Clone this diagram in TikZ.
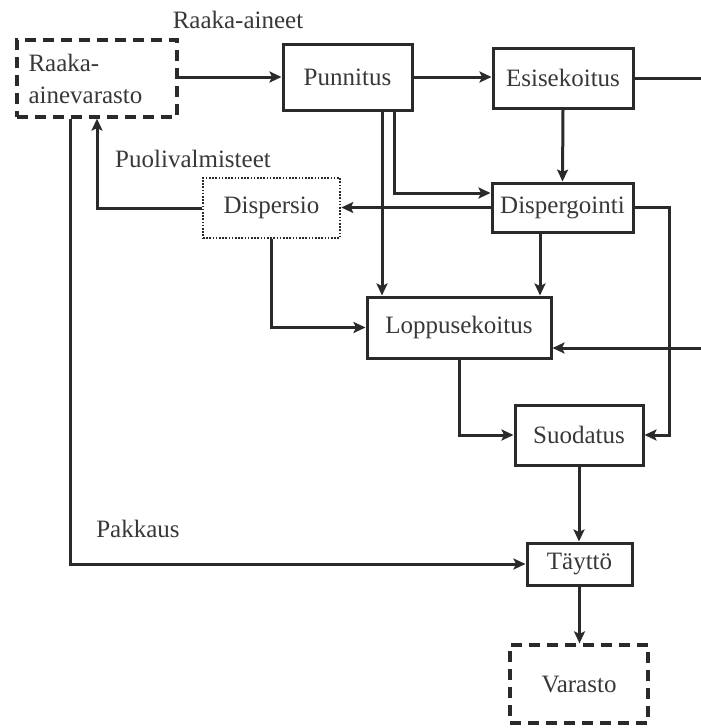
\documentclass[tikz,border=0pt]{standalone}
\usepackage{fontspec}
\setmainfont{Liberation Serif}
\usetikzlibrary{arrows.meta}
\definecolor{ink}{HTML}{2A2A2A}
\definecolor{txt}{HTML}{383838}
\tikzset{
  every node/.style={font=\fontsize{25}{32}\selectfont, text=txt},
  proc/.style={draw=ink, line width=3pt, rectangle, inner sep=0pt},
  store/.style={draw=ink, line width=3.3pt, rectangle, inner sep=0pt,
    dash pattern=on 11pt off 7pt},
  halfstore/.style={draw=ink, line width=2.6pt, rectangle, inner sep=0pt,
    dash pattern=on 1.6pt off 1.6pt},
  flow/.style={draw=ink, line width=3pt},
  arr/.style={flow, -{Stealth[length=12pt, width=11pt, inset=2.5pt]}},
  tag/.style={inner sep=0pt}
}
\begin{document}
\begin{tikzpicture}[x=1pt, y=-1pt]
\useasboundingbox (0,0) rectangle (701,728);

% storage and process boxes
\node[store, minimum width=160pt, minimum height=77pt, text width=137pt,
      inner xsep=11.5pt, align=left] (raw) at (97,78.5) {Raaka-\\ainevarasto};
\node[proc, minimum width=129pt, minimum height=66pt] (pun) at (347.5,77) {Punnitus};
\node[proc, minimum width=140pt, minimum height=60pt] (esi) at (563,78) {Esisekoitus};
\node[proc, minimum width=141pt, minimum height=49pt] (disg) at (562.5,207.5) {Dispergointi};
\node[halfstore, minimum width=137pt, minimum height=60pt] (dis) at (271.5,208) {Dispersio};
\node[proc, minimum width=184pt, minimum height=61pt] (lop) at (459,327.5) {Loppusekoitus};
\node[proc, minimum width=128pt, minimum height=60pt] (suo) at (579,435) {Suodatus};
\node[proc, minimum width=105pt, minimum height=42pt] (tay) at (579.5,564) {Täyttö};
\node[store, minimum width=138pt, minimum height=78pt] (var) at (579,684) {Varasto};

% stream labels
\node[tag] (lraw) at (238,20) {Raaka-aineet};
\node[tag] (lpuo) at (193,159) {Puolivalmisteet};
\node[tag] (lpak) at (138,529) {Pakkaus};

% lines leaving the drawing on the right
\coordinate (outE) at (701,78);
\coordinate (inE) at (701,348);

% main flow
\draw[arr] (raw.east |- pun.west) -- (pun.west);
\draw[arr] (pun.east) -- (esi.west |- pun.east);
\draw[flow] (esi.east) -- (outE);
\draw[arr] (esi.south) -- (disg.north);
\draw[arr] ([xshift=46.5pt]pun.south) |- ([yshift=14.5pt]disg.west);
\draw[arr] ([xshift=34.5pt]pun.south) -- ([xshift=34.5pt]pun.south |- lop.north);
\draw[arr] (disg.west) -- (dis.east |- disg.west);
\draw[arr] (dis.west) -| (raw.south);
\draw[arr] ([xshift=-27pt]raw.south) |- (tay.west);
\draw[arr] (dis.south) |- (lop.west);
\draw[arr] ([xshift=-22.5pt]disg.south) -- ([xshift=-22.5pt]disg.south |- lop.north);
\draw[arr] (inE) -- (inE -| lop.east);
\draw[arr] (disg.east) -- ++(35,0) |- (suo.east);
\draw[arr] (lop.south) |- (suo.west);
\draw[arr] (suo.south) -- (suo.south |- tay.north);
\draw[arr] (tay.south) -- (tay.south |- var.north);
\end{tikzpicture}
\end{document}
